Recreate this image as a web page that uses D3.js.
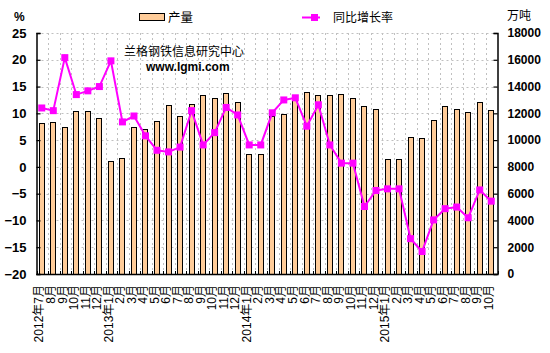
<!DOCTYPE html>
<html><head><meta charset="utf-8">
<script src="https://cdn.jsdelivr.net/npm/d3@7"></script>
<style>
html,body{margin:0;padding:0;background:#fff;}
svg{display:block;font-family:"Liberation Sans","Noto Sans CJK SC",sans-serif;}
</style></head>
<body>
<svg id="chart" width="550" height="353"></svg>
<script>
const months = ["2012年7月","8月","9月","10月","11月","12月",
  "2013年1月","2月","3月","4月","5月","6月","7月","8月","9月","10月","11月","12月",
  "2014年1月","2月","3月","4月","5月","6月","7月","8月","9月","10月","11月","12月",
  "2015年1月","2月","3月","4月","5月","6月","7月","8月","9月","10月"];
const output = [11250,11330,10960,12150,12150,11630,
  8440,8640,10960,10810,11400,12600,11780,12700,13350,13140,13520,12850,
  8960,8960,11780,11930,13000,13590,13350,13350,13420,13120,12520,12300,
  8570,8570,10210,10130,11500,12520,12300,12080,12820,12250];
const growth = [11.0,10.5,20.4,13.5,14.2,15.0,
  19.8,8.4,9.5,5.8,3.1,2.8,3.7,10.5,4.1,6.4,11.1,9.7,
  4.1,4.1,10.1,12.5,12.9,7.6,11.6,4.1,0.7,0.7,-7.4,-4.4,
  -4.1,-4.1,-13.4,-15.8,-9.9,-7.8,-7.5,-9.5,-4.3,-6.4];
const leftTicks = [-20,-15,-10,-5,0,5,10,15,20,25];
const rightTicks = [0,2000,4000,6000,8000,10000,12000,14000,16000,18000];
const seriesNames = ["产量","同比增长率"];

const svg = d3.select("#chart");
const L = 36.5, R = 497.5, T = 33, B = 274;
const x = d3.scaleBand().domain(d3.range(months.length)).range([L, R]);
const yL = d3.scaleLinear().domain([-20, 25]).range([B, T]);
const yR = d3.scaleLinear().domain([0, 18000]).range([B, T]);
const cx = i => x(i) + x.bandwidth() / 2 - 0.5;

// gridlines
const grid = svg.append("g").attr("stroke", "#c0c0c0").attr("stroke-dasharray", "2,3").attr("stroke-width", 1);
leftTicks.forEach(t => {
  if (t === -20) return;
  grid.append("line").attr("x1", L).attr("x2", R).attr("y1", Math.round(yL(t)) + 0.5).attr("y2", Math.round(yL(t)) + 0.5);
});
for (let i = 1; i < months.length; i++) {
  const gx = Math.round(L + i * x.step()) + 0.5;
  grid.append("line").attr("x1", gx).attr("x2", gx).attr("y1", T).attr("y2", B);
}

// bars
svg.append("g").selectAll("rect").data(output).join("rect")
  .attr("x", (d, i) => Math.round(cx(i) - 3) + 0.5)
  .attr("width", 5)
  .attr("y", d => Math.round(yR(d)) + 0.5)
  .attr("height", d => B - Math.round(yR(d)))
  .attr("fill", "#FFCC99").attr("stroke", "#000").attr("stroke-width", 1);

// axes
const axL = svg.append("g").attr("transform", `translate(${L},0)`)
  .call(d3.axisLeft(yL).tickValues(leftTicks).tickSize(-4).tickPadding(10));
const axR = svg.append("g").attr("transform", `translate(${R},0)`)
  .call(d3.axisRight(yR).tickValues(rightTicks).tickFormat(d3.format("d")).tickSize(-4).tickPadding(10));
[axL, axR].forEach(a => {
  a.select(".domain").attr("stroke", "#000").attr("stroke-width", 1.5);
  a.selectAll(".tick line").attr("stroke", "#000").attr("stroke-width", 1.2);
  a.selectAll("text").attr("fill", "#000").attr("font-weight", "bold")
    .attr("font-family", "'Liberation Sans',Arial,sans-serif");
});
axL.selectAll("text").attr("font-size", 13);
axR.selectAll("text").attr("font-size", 12);

// bottom axis
const bx = svg.append("g");
bx.append("line").attr("x1", L).attr("x2", R).attr("y1", B + 0.5).attr("y2", B + 0.5).attr("stroke", "#000").attr("stroke-width", 1.5);
for (let i = 0; i <= months.length; i++) {
  const gx = Math.round(L + i * x.step()) + 0.5;
  bx.append("line").attr("x1", gx).attr("x2", gx).attr("y1", B).attr("y2", B - 3).attr("stroke", "#000");
}
bx.selectAll("text").data(months).join("text")
  .attr("transform", (d, i) => `translate(${cx(i) - 2.5},285) rotate(-90)`)
  .attr("text-anchor", "end").attr("dy", "0.35em")
  .attr("font-size", 12).attr("fill", "#000").text(d => d);

// line
const line = d3.line().x((d, i) => cx(i)).y(d => yL(d));
svg.append("path").datum(growth).attr("d", line)
  .attr("fill", "none").attr("stroke", "#FF00FF").attr("stroke-width", 2);
svg.append("g").selectAll("rect").data(growth).join("rect")
  .attr("x", (d, i) => cx(i) - 3.5).attr("y", d => yL(d) - 3.5)
  .attr("width", 7).attr("height", 7).attr("fill", "#FF00FF");

// axis titles
svg.append("text").attr("x", 14).attr("y", 21).attr("font-size", 12).attr("font-weight", "bold").text("%");
svg.append("text").attr("x", 507).attr("y", 20).attr("font-size", 12).text("万吨");

// legend
svg.append("rect").attr("x", 139.5).attr("y", 13.5).attr("width", 25).attr("height", 7)
  .attr("fill", "#FFCC99").attr("stroke", "#000");
svg.append("text").attr("x", 168).attr("y", 22).attr("font-size", 12.5).text(seriesNames[0]);
svg.append("line").attr("x1", 302).attr("x2", 320).attr("y1", 17.5).attr("y2", 17.5)
  .attr("stroke", "#FF00FF").attr("stroke-width", 2);
svg.append("rect").attr("x", 311).attr("y", 14).attr("width", 7).attr("height", 7).attr("fill", "#FF00FF");
svg.append("text").attr("x", 333).attr("y", 22).attr("font-size", 12).text(seriesNames[1]);

// watermark
svg.append("text").attr("x", 124).attr("y", 56).attr("font-size", 12).text("兰格钢铁信息研究中心");
svg.append("text").attr("x", 146).attr("y", 71).attr("font-size", 12).attr("font-weight", "bold").text("www.lgmi.com");
</script>
</body></html>
